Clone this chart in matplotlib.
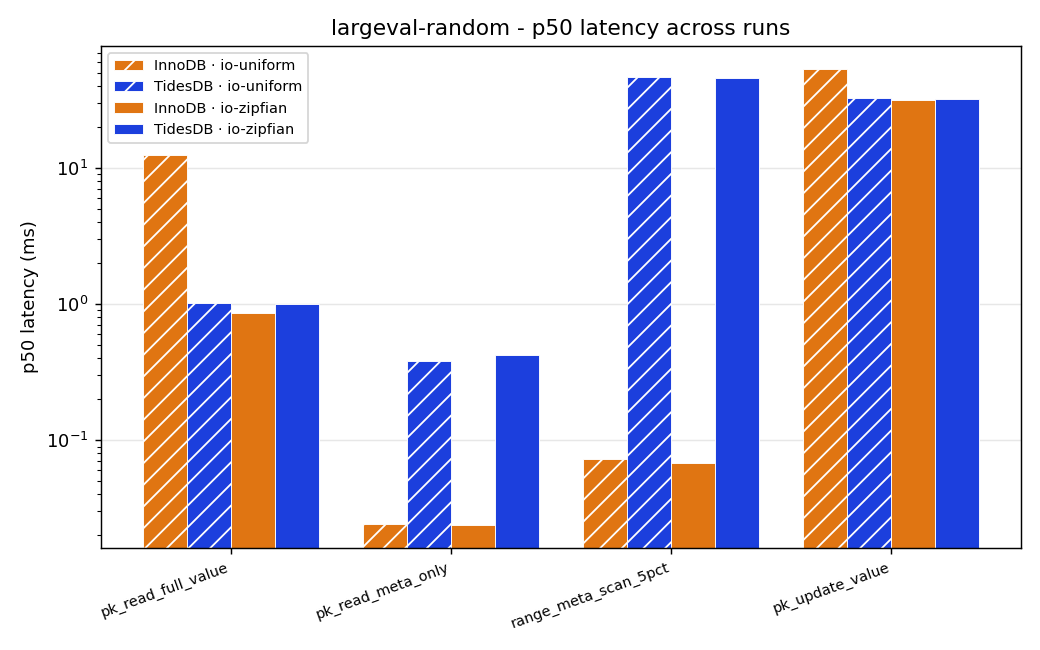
import numpy as np
import matplotlib
matplotlib.use('Agg')
import matplotlib.pyplot as plt

workloads = ['pk_read_full_value', 'pk_read_meta_only',
             'range_meta_scan_5pct', 'pk_update_value']
series_labels = ['InnoDB · io-uniform', 'TidesDB · io-uniform',
                 'InnoDB · io-zipfian', 'TidesDB · io-zipfian']

innodb_uniform = [12.5, 0.0241, 0.0725, 53.4]
tidesdb_uniform = [1.02, 0.381, 46.7, 32.7]
innodb_zipfian = [0.86, 0.0238, 0.0678, 31.7]
tidesdb_zipfian = [1.0, 0.42, 45.9, 32.1]

ORANGE = '#e07512'
BLUE = '#1c3fdd'


def plot_latency():
    plt.rcParams['hatch.color'] = 'white'
    fig, ax = plt.subplots(figsize=(8, 5), dpi=130)
    fig.subplots_adjust(left=0.097, right=0.982, top=0.929, bottom=0.157)

    x = np.arange(len(workloads))
    width = 0.2
    series = [innodb_uniform, tidesdb_uniform, innodb_zipfian, tidesdb_zipfian]
    colors = [ORANGE, BLUE, ORANGE, BLUE]
    hatches = ['//', '//', None, None]

    for i, vals in enumerate(series):
        ax.bar(x + (i - 1.5) * width, vals, width, color=colors[i],
               edgecolor='white', linewidth=0.5, hatch=hatches[i],
               label=series_labels[i], zorder=2)

    ax.set_yscale('log')
    ax.grid(axis='y', alpha=0.3, zorder=0)
    ax.set_axisbelow(True)
    ax.set_xticks(x)
    ax.set_xticklabels(workloads, rotation=20, ha='right', fontsize=8)
    ax.set_ylabel('p50 latency (ms)')
    ax.set_title('largeval-random - p50 latency across runs')
    ax.legend(loc='upper left', fontsize=8)

    fig.savefig('out.png')


if __name__ == '__main__':
    plot_latency()
